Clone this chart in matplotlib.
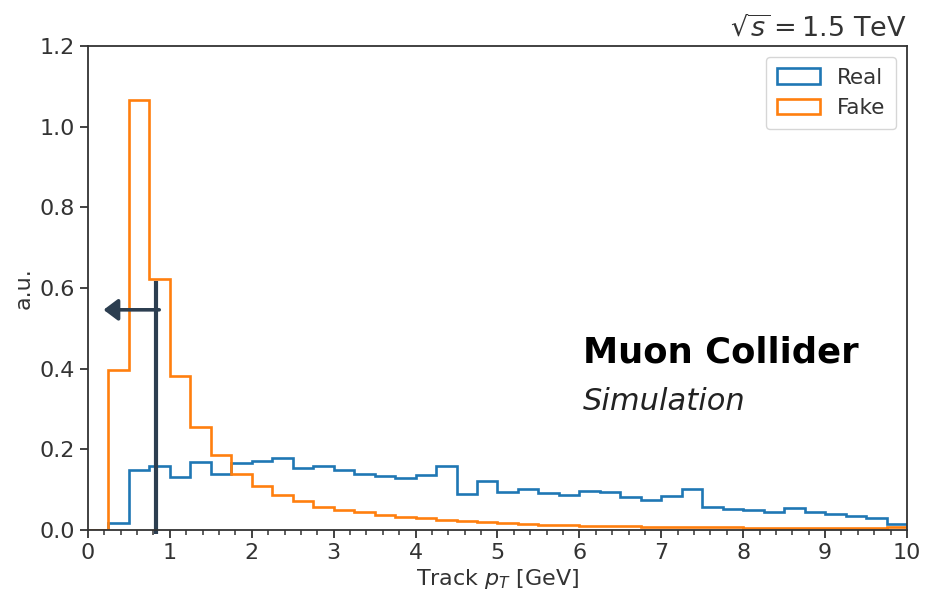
import numpy as np
import matplotlib
matplotlib.use("Agg")
import matplotlib.pyplot as plt
from matplotlib.ticker import MultipleLocator

# pT binning: 40 bins of 0.25 GeV
bin_edges = np.arange(0, 10.01, 0.25)
bin_centers = 0.5 * (bin_edges[:-1] + bin_edges[1:])

# normalised track pT distributions (a.u.)
real_tracks = [0.0, 0.018, 0.150, 0.160, 0.132, 0.169, 0.138, 0.167,
               0.172, 0.178, 0.154, 0.158, 0.150, 0.139, 0.134, 0.128,
               0.136, 0.160, 0.089, 0.122, 0.095, 0.101, 0.093, 0.087,
               0.097, 0.095, 0.083, 0.074, 0.085, 0.101, 0.058, 0.052,
               0.050, 0.045, 0.055, 0.044, 0.039, 0.035, 0.029, 0.014]
fake_tracks = [0.0, 0.397, 1.066, 0.622, 0.382, 0.256, 0.186, 0.138,
               0.109, 0.088, 0.071, 0.058, 0.050, 0.044, 0.038, 0.033,
               0.029, 0.025, 0.022, 0.019, 0.017, 0.015, 0.013, 0.012,
               0.011, 0.010, 0.009, 0.008, 0.008, 0.007, 0.007, 0.007,
               0.006, 0.006, 0.006, 0.006, 0.006, 0.006, 0.006, 0.007]

# pT cut shown on the plot
pt_cut = 0.83
cut_height = 0.617
arrow_y = 0.546
arrow_end = 0.19

txt = "#333333"
plt.rcParams["font.size"] = 16
plt.rcParams["text.color"] = txt
plt.rcParams["axes.labelcolor"] = txt
plt.rcParams["xtick.color"] = txt
plt.rcParams["ytick.color"] = txt

fig = plt.figure(figsize=(9.26, 6.01), dpi=100)
ax = fig.add_axes([0.095, 0.118, 0.8845, 0.8055])

ax.hist(bin_centers, bins=bin_edges, weights=real_tracks, histtype="step",
        color="#1f77b4", lw=1.9, label="Real")
ax.hist(bin_centers, bins=bin_edges, weights=fake_tracks, histtype="step",
        color="#ff7f0e", lw=1.9, label="Fake")

# cut line + arrow pointing to the kept region
ax.plot([pt_cut, pt_cut], [-0.01, cut_height], color="#2c3e50", lw=3,
        clip_on=False, solid_capstyle="butt")
ax.annotate("", xy=(arrow_end, arrow_y), xytext=(pt_cut + 0.04, arrow_y),
            arrowprops=dict(arrowstyle="-|>,head_length=0.32,head_width=0.24",
                            color="#2c3e50", lw=2.6,
                            mutation_scale=27, shrinkA=0, shrinkB=0))

ax.set_xlim(0, 10)
ax.set_ylim(0, 1.2)
ax.xaxis.set_major_locator(MultipleLocator(1))
ax.xaxis.set_minor_locator(MultipleLocator(0.2))
ax.yaxis.set_major_locator(MultipleLocator(0.2))
ax.tick_params(axis="both", which="major", length=6, width=1.3, labelsize=16)
ax.tick_params(axis="x", which="minor", length=3.5, width=1.1)
for sp in ax.spines.values():
    sp.set_linewidth(1.3)
    sp.set_color("#333333")

ax.set_xlabel("Track $p_T$ [GeV]", fontsize=16, labelpad=3)
ax.set_ylabel("a.u.", fontsize=16)
ax.set_title(r"$\sqrt{s} = 1.5$ TeV", loc="right", fontsize=19.5, pad=7)

ax.text(0.604, 0.347, "Muon Collider", transform=ax.transAxes,
        fontsize=25.5, fontweight="bold", color="black")
ax.text(0.604, 0.248, "Simulation", transform=ax.transAxes,
        fontsize=22, style="italic", color="#222222")

leg = ax.legend(loc="upper right", fontsize=15.5, handlelength=2.0,
                borderpad=0.5, framealpha=0.8)

fig.savefig("out.png", dpi=100)
